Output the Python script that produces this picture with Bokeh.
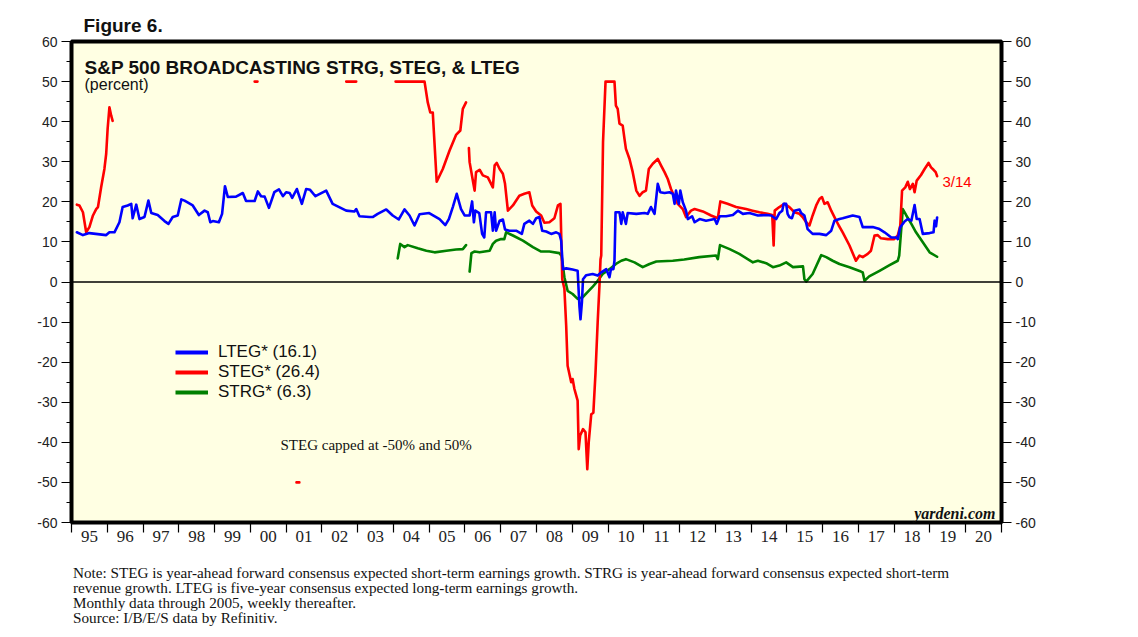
import math
from bokeh.plotting import figure
from bokeh.layouts import column
from bokeh.models import (Range1d, LinearAxis, FixedTicker, Span, Label, Legend, LegendItem, Div)
from bokeh.embed import file_html
from bokeh.resources import INLINE

NaN = float("nan")

# ---------------- data ----------------
years_labels = ["95", "96", "97", "98", "99", "00", "01", "02", "03", "04", "05", "06", "07",
                "08", "09", "10", "11", "12", "13", "14", "15", "16", "17", "18", "19", "20"]
y_ticks = [-60, -50, -40, -30, -20, -10, 0, 10, 20, 30, 40, 50, 60]

lteg_x = [1995.15, 1995.32, 1995.5, 1995.97, 1996.06, 1996.2, 1996.34, 1996.43, 1996.57, 1996.67,
          1996.71, 1996.81, 1996.9, 1997.04, 1997.15, 1997.23, 1997.41, 1997.6, 1997.71, 1997.83,
          1997.97, 1998.07, 1998.16, 1998.39, 1998.56, 1998.72, 1998.81, 1998.88, 1998.95, 1999.12,
          1999.21, 1999.29, 1999.37, 1999.6, 1999.79, 1999.88, 2000.12, 2000.21, 2000.3, 2000.4,
          2000.52, 2000.67, 2000.8, 2000.91, 2001.0, 2001.1, 2001.17, 2001.3, 2001.44, 2001.56,
          2001.67, 2001.82, 2002.12, 2002.3, 2002.68, 2002.91, 2002.96, 2003.05, 2003.33, 2003.42,
          2003.56, 2003.8, 2003.98, 2004.15, 2004.31, 2004.45, 2004.59, 2004.73, 2005.0, 2005.29,
          2005.45, 2005.55, 2005.66, 2005.77, 2005.89, 2005.99, 2006.13, 2006.2, 2006.25, 2006.29,
          2006.4, 2006.48, 2006.54, 2006.59, 2006.73, 2006.78, 2006.83, 2006.87, 2006.97, 2007.06,
          2007.12, 2007.24, 2007.43, 2007.59, 2007.66, 2007.8, 2007.9, 2007.99, 2008.08, 2008.16,
          2008.27, 2008.41, 2008.55, 2008.64, 2008.69, 2008.74, 2008.83, 2009.01, 2009.15, 2009.2,
          2009.23, 2009.27, 2009.3, 2009.39, 2009.57, 2009.71, 2009.81, 2009.95, 2010.04, 2010.08,
          2010.15, 2010.18, 2010.21, 2010.32, 2010.37, 2010.41, 2010.5, 2010.55, 2010.79, 2011.02,
          2011.11, 2011.2, 2011.3, 2011.39, 2011.46, 2011.58, 2011.72, 2011.81, 2011.86, 2011.9,
          2011.98, 2012.02, 2012.09, 2012.18, 2012.23, 2012.35, 2012.42, 2012.56, 2012.74, 2012.98,
          2013.04, 2013.12, 2013.3, 2013.49, 2013.63, 2013.77, 2013.95, 2014.19, 2014.42, 2014.56,
          2014.7, 2014.79, 2014.87, 2014.91, 2014.98, 2015.02, 2015.07, 2015.14, 2015.21, 2015.35,
          2015.4, 2015.49, 2015.58, 2015.72, 2015.91, 2016.1, 2016.24, 2016.33, 2016.47, 2016.56,
          2016.84, 2017.03, 2017.12, 2017.4, 2017.59, 2017.73, 2017.92, 2018.06, 2018.1, 2018.17,
          2018.29, 2018.38, 2018.48, 2018.57, 2018.63, 2018.71, 2018.8, 2018.99, 2019.1, 2019.13,
          2019.17, 2019.2]
lteg_y = [12.4, 11.7, 12.2, 11.7, 12.4, 12.4, 14.9, 18.7, 19.1, 19.5,
          15.9, 19.3, 15.7, 16.2, 20.3, 17.2, 16.7, 15.2, 14.5, 16.2,
          16.6, 20.6, 20.3, 19.1, 16.7, 17.8, 17.4, 14.9, 15.2, 14.9,
          17.0, 23.9, 21.2, 21.3, 22.2, 20.2, 20.2, 22.6, 21.4, 21.3,
          18.5, 22.4, 23.1, 21.4, 22.4, 22.2, 21.0, 23.2, 19.5, 23.2,
          23.0, 21.4, 22.8, 19.5, 17.8, 17.6, 18.2, 16.4, 16.2, 16.2,
          17.0, 18.1, 16.6, 15.6, 18.1, 16.6, 14.1, 16.9, 17.2, 15.7,
          14.2, 15.7, 18.7, 22.0, 18.2, 16.6, 16.6, 20.1, 14.9, 17.8,
          17.2, 12.0, 11.1, 17.4, 17.4, 12.8, 17.4, 12.8, 15.3, 15.6,
          13.1, 12.8, 12.8, 12.0, 14.5, 15.3, 14.5, 15.9, 16.2, 12.8,
          12.6, 12.0, 12.4, 12.0, 10.3, 3.2, 3.4, 3.1, 2.8, -6.0,
          -9.3, -5.0, 0.7, 1.7, 2.0, 1.6, 2.4, 3.2, 1.2, 3.2,
          3.2, 5.3, 17.4, 17.4, 14.5, 17.4, 14.5, 17.2, 17.0, 17.2,
          17.0, 18.7, 17.0, 24.5, 22.4, 22.2, 22.4, 22.0, 19.5, 22.8,
          19.5, 22.8, 19.9, 17.8, 15.7, 16.4, 14.9, 15.7, 15.3, 15.7,
          14.5, 16.4, 16.4, 16.7, 17.8, 17.0, 17.2, 16.6, 16.7, 16.6,
          15.7, 17.2, 17.8, 19.5, 19.5, 17.0, 16.2, 15.9, 17.8, 18.1,
          17.2, 16.6, 13.2, 12.0, 12.0, 11.7, 12.8, 15.3, 15.7, 15.9,
          16.6, 16.2, 13.7, 13.7, 13.2, 12.4, 11.1, 11.1, 10.7, 13.7,
          15.1, 15.7, 15.3, 19.2, 15.7, 15.7, 12.0, 12.2, 12.4, 15.3,
          13.9, 16.1]

steg_x = [1995.15, 1995.22, 1995.32, 1995.41, 1995.5, 1995.6, 1995.69, 1995.74, 1995.83, 1995.92,
          1995.97, 1996.01, 1996.06, 1996.11, 1996.15, NaN,
          2000.12, 2000.2, NaN,
          2001.29, 2001.37, NaN,
          2002.68, 2002.96, NaN,
          2004.06, 2004.87, 2004.96, 2005.03, 2005.1, 2005.21, 2005.38, 2005.57, 2005.75, 2005.87,
          2005.94, 2006.03, NaN,
          2006.11, 2006.13, 2006.22, 2006.27, 2006.31, 2006.41, 2006.5, 2006.64, 2006.78, 2006.83,
          2006.89, 2006.97, 2007.06, 2007.12, 2007.2, 2007.34, 2007.52, 2007.66, 2007.8, 2007.88,
          2007.99, 2008.13, 2008.22, 2008.36, 2008.5, 2008.6, 2008.67, 2008.72, 2008.78, 2008.83,
          2008.87, 2008.97, 2009.01, 2009.06, 2009.15, 2009.18, 2009.22, 2009.3, 2009.37, 2009.42,
          2009.46, 2009.53, 2009.59, 2009.65, 2009.71, 2009.76, 2009.79, 2009.81, 2009.86, 2009.93,
          2010.18, 2010.22, 2010.27, 2010.32, 2010.41, 2010.46, 2010.5, 2010.6, 2010.69, 2010.79,
          2010.88, 2010.97, 2011.06, 2011.14, 2011.25, 2011.39, 2011.48, 2011.58, 2011.67, 2011.76,
          2011.86, 2011.95, 2012.09, 2012.18, 2012.32, 2012.42, 2012.65, 2012.88, 2013.07, 2013.14,
          2013.34, 2013.58, 2013.86, 2014.04, 2014.23, 2014.46, 2014.59, 2014.63, 2014.66, 2014.79,
          2014.93, 2015.07, 2015.21, 2015.35, 2015.44, 2015.54, 2015.63, 2015.72, 2015.82, 2015.91,
          2015.98, 2016.05, 2016.14, 2016.24, 2016.33, 2016.45, 2016.56, 2016.75, 2016.93, 2017.03,
          2017.12, 2017.26, 2017.35, 2017.45, 2017.54, 2017.63, 2017.82, 2018.0, 2018.1, 2018.17,
          2018.22, 2018.31, 2018.38, 2018.44, 2018.52, 2018.57, 2018.63, 2018.75, 2018.85, 2018.96,
          2019.03, 2019.1, 2019.16, 2019.2]
steg_y = [19.3, 19.1, 17.4, 12.4, 13.7, 16.6, 18.2, 18.7, 23.7, 28.2,
          32.0, 38.2, 43.6, 41.5, 40.2, NaN,
          50, 50, NaN,
          -50, -50, NaN,
          50, 50, NaN,
          50, 50, 44.8, 42.3, 42.3, 25.0, 28.2, 32.8, 36.7, 37.8,
          43.2, 44.8, NaN,
          33.4, 29.9, 25.3, 22.8, 27.4, 28.0, 26.6, 26.1, 23.6, 29.1,
          29.7, 28.2, 27.0, 24.5, 17.8, 19.1, 21.5, 22.0, 22.4, 19.1,
          17.6, 16.6, 14.8, 14.9, 15.9, 19.1, 19.5, 0.7, -1.7, -10.9,
          -20.9, -25.0, -24.2, -26.7, -29.6, -41.7, -38.3, -36.7, -37.5, -46.7,
          -40.0, -33.0, -32.6, -22.6, -10.1, -0.9, 5.7, 6.6, 34.9, 50,
          50, 44.0, 43.2, 39.5, 39.0, 35.7, 33.2, 30.7, 27.4, 22.8,
          21.5, 22.4, 22.8, 28.2, 29.5, 30.7, 29.1, 27.4, 25.7, 23.2,
          21.2, 19.5, 18.2, 16.2, 17.8, 18.2, 17.6, 16.6, 15.9, 20.1,
          19.5, 18.7, 18.2, 17.8, 17.4, 17.0, 16.7, 9.1, 17.8, 18.7,
          19.5, 18.7, 17.4, 17.0, 16.2, 14.9, 14.1, 16.6, 19.1, 20.7,
          21.2, 19.5, 19.9, 17.8, 16.2, 14.1, 12.4, 9.1, 5.3, 6.6,
          6.2, 7.0, 7.8, 11.6, 11.7, 10.9, 10.7, 10.7, 11.6, 14.1,
          22.8, 23.6, 25.0, 23.2, 24.5, 22.4, 25.3, 26.7, 28.2, 29.7,
          28.6, 28.0, 27.4, 26.4]

strg_x = [2004.12, 2004.19, 2004.31, 2004.4, 2004.68, 2004.92, 2005.15, 2005.48, 2005.75, 2005.94,
          2006.03, NaN,
          2006.13, 2006.18, 2006.27, 2006.41, 2006.69, 2006.78, 2006.87, 2007.01, 2007.1, 2007.15,
          2007.34, 2007.62, 2007.9, 2008.13, 2008.36, 2008.64, 2008.7, 2008.78, 2008.87, 2009.01,
          2009.15, 2009.29, 2009.42, 2009.56, 2009.71, 2009.85, 2010.04, 2010.22, 2010.37, 2010.5,
          2010.74, 2010.97, 2011.16, 2011.35, 2011.81, 2012.13, 2012.55, 2013.02, 2013.07, 2013.13,
          2013.4, 2013.67, 2014.05, 2014.19, 2014.42, 2014.61, 2014.79, 2014.98, 2015.17, 2015.45,
          2015.49, 2015.54, 2015.72, 2015.96, 2016.1, 2016.28, 2016.47, 2016.75, 2017.07, 2017.12,
          2017.17, 2017.3, 2017.59, 2017.87, 2018.1, 2018.14, 2018.19, 2018.24, 2018.34, 2018.48,
          2018.61, 2018.8, 2018.99, 2019.2]
strg_y = [5.9, 9.5, 8.7, 9.2, 8.4, 7.8, 7.4, 7.8, 8.1, 8.2,
          9.2, NaN,
          2.6, 7.2, 7.6, 7.4, 7.8, 9.5, 10.3, 10.7, 10.7, 12.4,
          11.6, 10.3, 8.7, 7.6, 7.6, 7.2, 6.5, 1.2, -2.2, -3.0,
          -4.2, -3.8, -2.6, -1.3, 0.3, 2.0, 3.2, 4.5, 5.3, 5.7,
          4.9, 3.7, 4.5, 5.1, 5.3, 5.6, 6.2, 6.6, 5.7, 9.2,
          8.2, 7.0, 4.9, 5.3, 4.7, 3.7, 4.1, 4.9, 3.7, 3.9,
          0.7, 0.1, 2.0, 6.7, 6.2, 5.3, 4.5, 3.7, 2.6, 2.4,
          0.3, 1.4, 2.8, 4.2, 5.3, 6.6, 12.4, 18.2, 16.6, 14.5,
          12.4, 9.9, 7.4, 6.3]

legend_labels = ["LTEG* (16.1)", "STEG* (26.4)", "STRG* (6.3)"]
last_date_label = "3/14"
notes = ["Note: STEG is year-ahead forward consensus expected short-term earnings growth. STRG is year-ahead forward consensus expected short-term",
         "revenue growth. LTEG is five-year consensus expected long-term earnings growth.",
         "Monthly data through 2005, weekly thereafter.",
         "Source: I/B/E/S data by Refinitiv."]

# ---------------- layout helpers (page pixel -> data, for annotations only) ----------------
FX0, FX1, FY0, FY1 = 72, 1002, 42, 523
def dx(px):
    return 1995 + (px - FX0) * 26.0 / (FX1 - FX0)
def dy(py):
    return 60 - (py - FY0) * 120.0 / (FY1 - FY0)

BLUE, RED, GREEN = "#0000FF", "#FF0000", "#008000"

p = figure(width=1120, height=558, x_range=Range1d(1995, 2021), y_range=Range1d(-60, 60),
           output_backend="svg", toolbar_location=None,
           x_axis_location=None, y_axis_location=None,
           min_border_left=71, min_border_right=119, min_border_top=41, min_border_bottom=36)
p.background_fill_color = "#FFFFE3"
p.border_fill_color = "white"
p.outline_line_color = "black"
p.outline_line_width = 4
p.xgrid.visible = False
p.ygrid.visible = False

p.title.text = "Figure 6."
p.title.align = "left"
p.title.offset = 12
p.title.standoff = 12
p.title.text_font = "Liberation Sans"
p.title.text_font_size = "19px"
p.title.text_font_style = "bold"
p.title.text_color = "#111111"

def style_y(ax):
    ax.ticker = FixedTicker(ticks=y_ticks, minor_ticks=[v + 5 for v in y_ticks[:-1]])
    ax.major_label_overrides = {v: str(v) for v in y_ticks}
    ax.axis_line_color = None
    ax.major_tick_in = 0
    ax.major_tick_out = 10
    ax.minor_tick_in = 0
    ax.minor_tick_out = 5
    ax.major_tick_line_color = "black"
    ax.minor_tick_line_color = "black"
    ax.major_tick_line_width = 1.2
    ax.minor_tick_line_width = 1.2
    ax.major_label_text_font = "Liberation Sans"
    ax.major_label_text_font_size = "14px"
    ax.major_label_text_color = "#222222"
    ax.major_label_standoff = 4

yl = LinearAxis()
style_y(yl)
p.add_layout(yl, "left")
yr = LinearAxis()
style_y(yr)
p.add_layout(yr, "right")

mids = [1995.5 + i for i in range(len(years_labels))]
bounds = [1995 + i for i in range(len(years_labels) + 1)]
xa = LinearAxis()
xa.ticker = FixedTicker(ticks=mids, minor_ticks=bounds)
xa.major_label_overrides = {m: lab for m, lab in zip(mids, years_labels)}
xa.axis_line_color = None
xa.major_tick_in = 0
xa.major_tick_out = 0
xa.minor_tick_in = 0
xa.minor_tick_out = 10
xa.minor_tick_line_color = "black"
xa.minor_tick_line_width = 1.2
xa.major_label_text_font = "Liberation Serif"
xa.major_label_text_font_size = "17px"
xa.major_label_text_color = "#222222"
xa.major_label_standoff = -2
p.add_layout(xa, "below")

p.add_layout(Span(location=0, dimension="width", line_color="black", line_width=1.5))

kw = dict(line_width=2.6, line_join="round", line_cap="round")
p.line(strg_x, strg_y, line_color=GREEN, **kw)
p.line(steg_x, steg_y, line_color=RED, **kw)
p.line(lteg_x, lteg_y, line_color=BLUE, **kw)

# legend samples (single last point each, so nothing extra is drawn in the plot)
r_l = p.line(lteg_x[-1:], lteg_y[-1:], line_color=BLUE, line_width=4)
r_s = p.line(steg_x[-1:], steg_y[-1:], line_color=RED, line_width=4)
r_g = p.line(strg_x[-1:], strg_y[-1:], line_color=GREEN, line_width=4)
legend = Legend(items=[LegendItem(label=legend_labels[0], renderers=[r_l]),
                       LegendItem(label=legend_labels[1], renderers=[r_s]),
                       LegendItem(label=legend_labels[2], renderers=[r_g])],
                location=(104, 120), padding=0, margin=0, spacing=0,
                label_height=20, glyph_height=20, glyph_width=33, label_standoff=10,
                background_fill_alpha=0, border_line_color=None,
                label_text_font="Liberation Sans", label_text_font_size="17px",
                label_text_color="#111111")
p.add_layout(legend, "center")

def lab(text, px, py, size, font="Liberation Sans", style="normal", color="#111111", align="left"):
    p.add_layout(Label(x=dx(px), y=dy(py), text=text, text_font=font, text_font_size=size,
                       text_font_style=style, text_color=color, text_align=align,
                       text_baseline="alphabetic"))

lab("S&P 500 BROADCASTING STRG, STEG, & LTEG", 85, 68, "19px", style="bold")
lab("(percent)", 85, 85, "16px")
lab("STEG capped at -50% and 50%", 281, 445, "15px", font="Liberation Serif")
lab(last_date_label, 943, 182, "15px", color=RED)
lab("yardeni.com", 996, 514, "16px", font="Liberation Serif", style="bold italic", align="right")

note_div = Div(text="<br>".join(notes), width=1100,
               styles={"font-family": "Liberation Serif", "font-size": "15.2px",
                       "line-height": "15px", "color": "#111111", "white-space": "nowrap"},
               margin=(7, 0, 0, 73))

layout = column(p, note_div, spacing=0)
open("out.html", "w").write(file_html(layout, INLINE))
